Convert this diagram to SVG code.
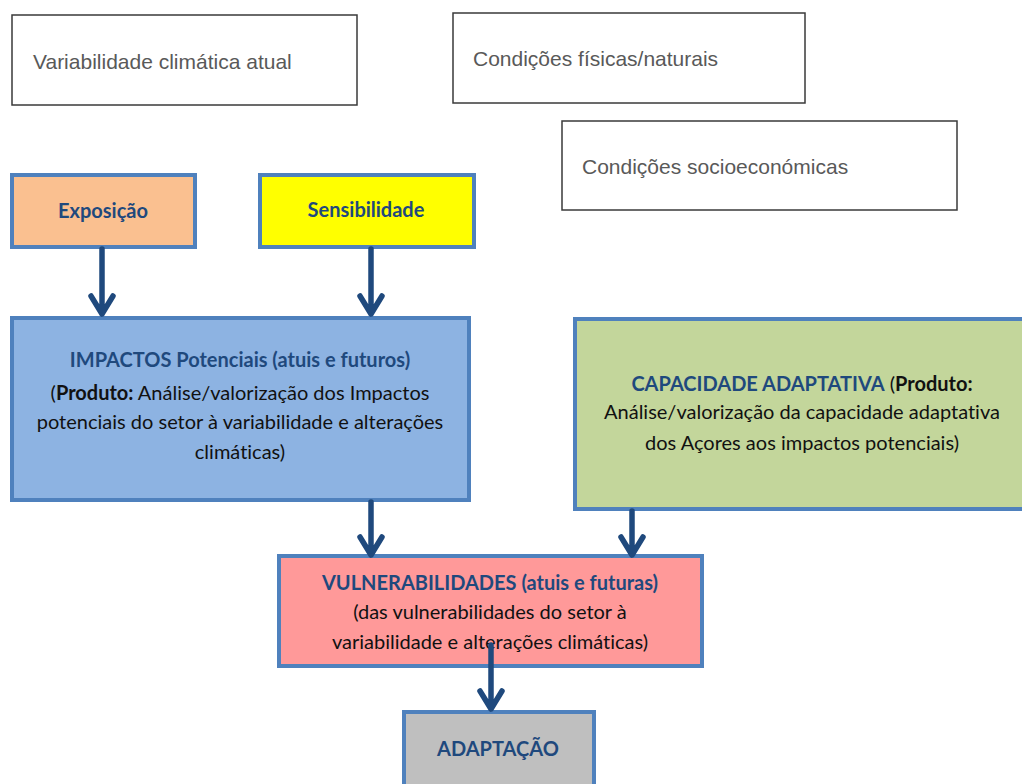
<svg xmlns="http://www.w3.org/2000/svg" width="1022" height="784" viewBox="0 0 1022 784">
<style>
.wbox{fill:#fff;stroke:#3a3a3a;stroke-width:1.5}
.wtxt{font-family:"Liberation Sans",Arial,sans-serif;font-size:21px;fill:#595959}
.cbox{stroke:#4F81BD;stroke-width:4}
.t{font-family:Lato,"Liberation Sans",sans-serif;font-size:20px;fill:#111;text-anchor:middle;font-variant-ligatures:none}
.bt{font-weight:bold;fill:#1F497D}
.b{font-weight:bold}
.arr{fill:none;stroke:#1F497D;stroke-width:5.5;stroke-linecap:round;stroke-linejoin:round}
</style>
<rect width="1022" height="784" fill="#fff"/>
<g id="variabilidade">
<rect class="wbox" x="12" y="15" width="345" height="90"/>
<text class="wtxt" x="33" y="69">Variabilidade climática atual</text>
</g>
<g id="condicoes-fisicas">
<rect class="wbox" x="453" y="13" width="352" height="90"/>
<text class="wtxt" x="473" y="66">Condições físicas/naturais</text>
</g>
<g id="condicoes-socio">
<rect class="wbox" x="562" y="121" width="395" height="89"/>
<text class="wtxt" x="582" y="174">Condições socioeconómicas</text>
</g>
<g id="exposicao">
<rect class="cbox" x="12" y="175" width="183" height="72" fill="#FAC090"/>
<text class="t bt" x="103" y="218">Exposição</text>
</g>
<g id="sensibilidade">
<rect class="cbox" x="260" y="175" width="214" height="72" fill="#FFFF00"/>
<text class="t bt" x="366" y="217">Sensibilidade</text>
</g>
<g id="impactos">
<rect class="cbox" x="12" y="318" width="457" height="182" fill="#8DB3E2"/>
<text class="t" x="240" y="367"><tspan class="bt">IMPACTOS Potenciais (atuis e futuros)</tspan></text>
<text class="t" x="240" y="400">(<tspan class="b">Produto:</tspan> Análise/valorização dos Impactos</text>
<text class="t" x="240" y="429">potenciais do setor à variabilidade e alterações</text>
<text class="t" x="240" y="459">climáticas)</text>
</g>
<g id="capacidade">
<rect class="cbox" x="575" y="319" width="452" height="190" fill="#C3D69B"/>
<text class="t" x="802" y="391"><tspan class="bt">CAPACIDADE ADAPTATIVA</tspan> (<tspan class="b">Produto:</tspan></text>
<text class="t" x="802" y="419">Análise/valorização da capacidade adaptativa</text>
<text class="t" x="802" y="450">dos Açores aos impactos potenciais)</text>
</g>
<g id="vulnerabilidades">
<rect class="cbox" x="279" y="556" width="423" height="110" fill="#FF9999"/>
<text class="t" x="490" y="590"><tspan class="bt">VULNERABILIDADES (atuis e futuras)</tspan></text>
<text class="t" x="490" y="619">(das vulnerabilidades do setor à</text>
<text class="t" x="490" y="649">variabilidade e alterações climáticas)</text>
</g>
<g id="adaptacao">
<rect class="cbox" x="404" y="712" width="190" height="80" fill="#BFBFBF"/>
<text class="t bt" x="498" y="756">ADAPTAÇÃO</text>
</g>
<g id="connectors">
<path class="arr" d="M102 249V314M91 296L102 314L113 296"/>
<path class="arr" d="M371 249V314M360 296L371 314L382 296"/>
<path class="arr" d="M371 502V555M360 537L371 555L382 537"/>
<path class="arr" d="M632 511V555M621 537L632 555L643 537"/>
<path class="arr" d="M491 645V709M480 691L491 709L502 691"/>
</g>
</svg>
